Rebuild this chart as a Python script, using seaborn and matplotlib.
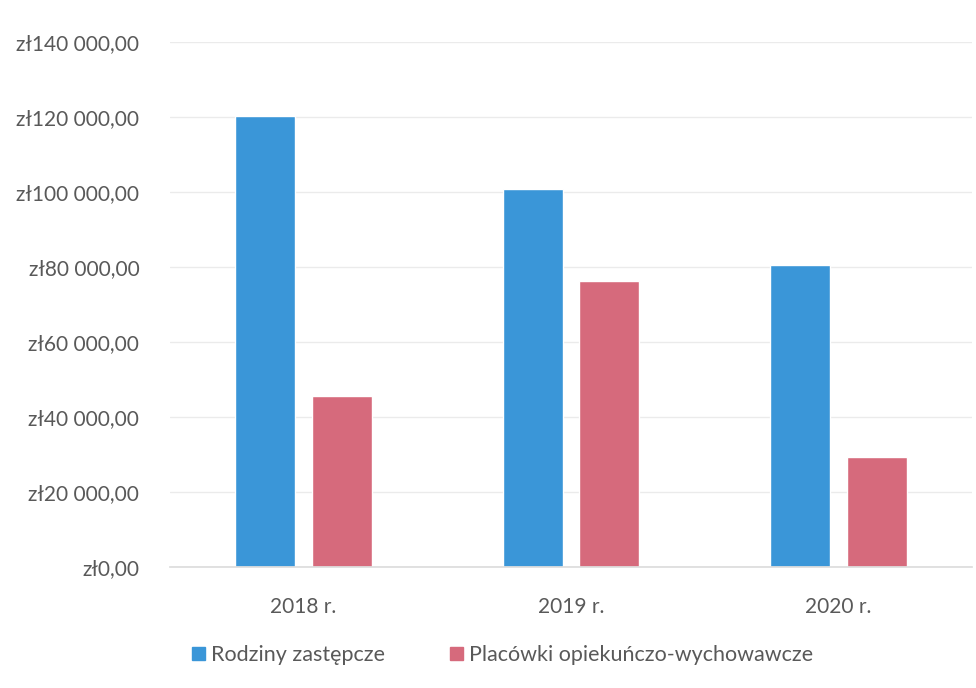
import matplotlib
matplotlib.use("Agg")
import matplotlib.pyplot as plt
import seaborn as sns
import pandas as pd
from matplotlib.ticker import FuncFormatter, MultipleLocator
from matplotlib.patches import Patch

years = ["2018 r.", "2019 r.", "2020 r."]
series_names = ["Rodziny zastępcze", "Placówki opiekuńczo-wychowawcze"]
rodziny = [120300, 100800, 80500]
placowki = [45500, 76200, 29300]
colors = ["#3a96d8", "#d66a7c"]

df = pd.DataFrame({
    "rok": years * 2,
    "seria": [series_names[0]] * 3 + [series_names[1]] * 3,
    "kwota": rodziny + placowki,
})

sns.set_theme(style="white")
plt.rcParams["font.family"] = ["Lato", "DejaVu Sans"]

fig = plt.figure(figsize=(9.76, 6.88), dpi=100)
ax = fig.add_axes([0.174, 0.176, 0.822, 0.763])

sns.barplot(data=df, x="rok", y="kwota", hue="seria", palette=colors,
            width=0.573, gap=0.216, ax=ax, legend=False, saturation=1)

ax.set_ylim(0, 140000)
ax.yaxis.set_major_locator(MultipleLocator(20000))

def fmt(v, pos):
    s = f"{int(round(v)):,}".replace(",", " ")
    return f"zł{s},00"

ax.yaxis.set_major_formatter(FuncFormatter(fmt))
ax.grid(axis="y", color="#ebebeb", linewidth=1)
ax.set_axisbelow(True)
for s in ["top", "right", "left"]:
    ax.spines[s].set_visible(False)
ax.spines["bottom"].set_color("#dddddd")
ax.set_xlabel("")
ax.set_ylabel("")
ax.tick_params(axis="both", length=0, labelsize=15, colors="#595959")
ax.tick_params(axis="x", pad=22)
ax.tick_params(axis="y", pad=22)

handles = [Patch(color=c, label=n) for c, n in zip(colors, series_names)]
fig.legend(handles=handles, loc="center", bbox_to_anchor=(0.515, 0.048), ncol=2,
           frameon=False, fontsize=15.5, handlelength=0.6, handleheight=0.6,
           handletextpad=0.3, columnspacing=3.0, labelcolor="#595959")

fig.savefig("out.png", dpi=100)
